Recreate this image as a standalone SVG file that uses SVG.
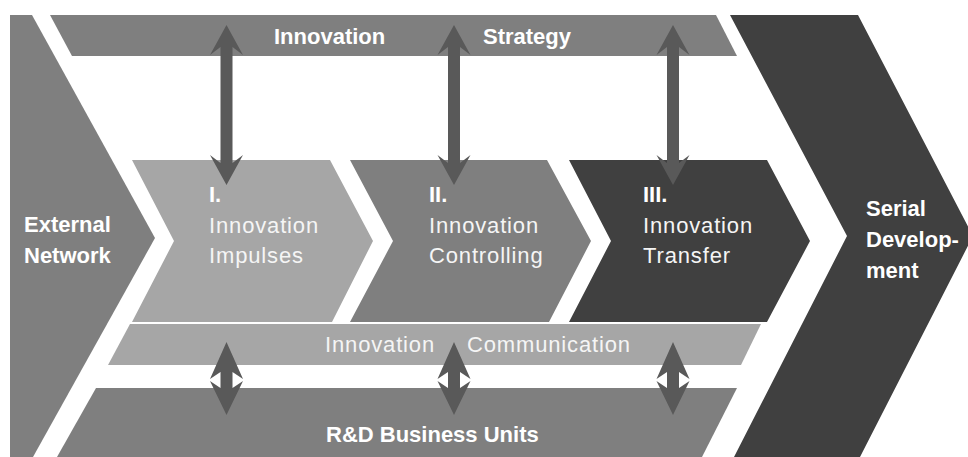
<svg xmlns="http://www.w3.org/2000/svg" width="968" height="457" viewBox="0 0 968 457">
<defs>
<style>
.mid{fill:#7f7f7f}
.light{fill:#a6a6a6}
.dark{fill:#404040}
.arr{fill:#595959}
.b{font-family:"Liberation Sans",Arial,sans-serif;font-weight:bold;font-size:22px;fill:#ffffff}
.r{font-family:"Liberation Sans",Arial,sans-serif;font-size:22px;letter-spacing:0.85px;fill:#f5f5f5}
</style>
</defs>
<rect width="968" height="457" fill="#ffffff"/>
<g id="external-network">
<polygon class="mid" points="10,15 32,15 155,238 33,457 10,457"/>
<text class="b" x="24" y="232">External</text>
<text class="b" x="24" y="263">Network</text>
</g>
<g id="innovation-strategy">
<polygon class="mid" points="50,15 716,15 737,56 72,56"/>
<text class="b" x="274" y="44">Innovation</text>
<text class="b" x="483" y="44">Strategy</text>
</g>
<g id="serial-development">
<polygon class="dark" points="730,15 858,15 973,236 860,457 734,457 847,236"/>
<text class="b" x="866" y="216">Serial</text>
<text class="b" x="866" y="247">Develop-</text>
<text class="b" x="866" y="278">ment</text>
</g>
<g id="innovation-impulses">
<polygon class="light" points="132,160 330,160 373,241 332,322 132,322 174,241"/>
<text class="b" x="209" y="202">I.</text>
<text class="r" x="209" y="233">Innovation</text>
<text class="r" x="209" y="263">Impulses</text>
</g>
<g id="innovation-controlling">
<polygon class="mid" points="350,160 547,160 591,241 549,322 350,322 393,241"/>
<text class="b" x="429" y="202">II.</text>
<text class="r" x="429" y="233">Innovation</text>
<text class="r" x="429" y="263">Controlling</text>
</g>
<g id="innovation-transfer">
<polygon class="dark" points="569,160 767,160 810,241 767,322 569,322 611,241"/>
<text class="b" x="643" y="202">III.</text>
<text class="r" x="643" y="233">Innovation</text>
<text class="r" x="643" y="263">Transfer</text>
</g>
<g id="innovation-communication">
<polygon class="light" points="130,324 761,324 741,365 108,365"/>
<text class="r" x="325" y="352">Innovation</text>
<text class="r" x="467" y="352">Communication</text>
</g>
<g id="rd-business-units">
<polygon class="mid" points="96,388 737,388 702,457 57,457"/>
<text class="b" x="326" y="442">R&amp;D Business Units</text>
</g>
<g id="connectors">
<polygon class="arr" points="226.5,25 243,55 232.5,47 232.5,163 243,155 226.5,185 210,155 220.5,163 220.5,47 210,55"/>
<polygon class="arr" points="454,25 470.5,55 460,47 460,163 470.5,155 454,185 437.5,155 448,163 448,47 437.5,55"/>
<polygon class="arr" points="673,25 689.5,55 679,47 679,163 689.5,155 673,185 656.5,155 667,163 667,47 656.5,55"/>
<polygon class="arr" points="226.5,342 243,379 232.5,372 232.5,388 243,381 226.5,415 210,381 220.5,388 220.5,372 210,379"/>
<polygon class="arr" points="454,342 470.5,379 460,372 460,388 470.5,381 454,415 437.5,381 448,388 448,372 437.5,379"/>
<polygon class="arr" points="673,342 689.5,379 679,372 679,388 689.5,381 673,415 656.5,381 667,388 667,372 656.5,379"/>
</g>
</svg>
